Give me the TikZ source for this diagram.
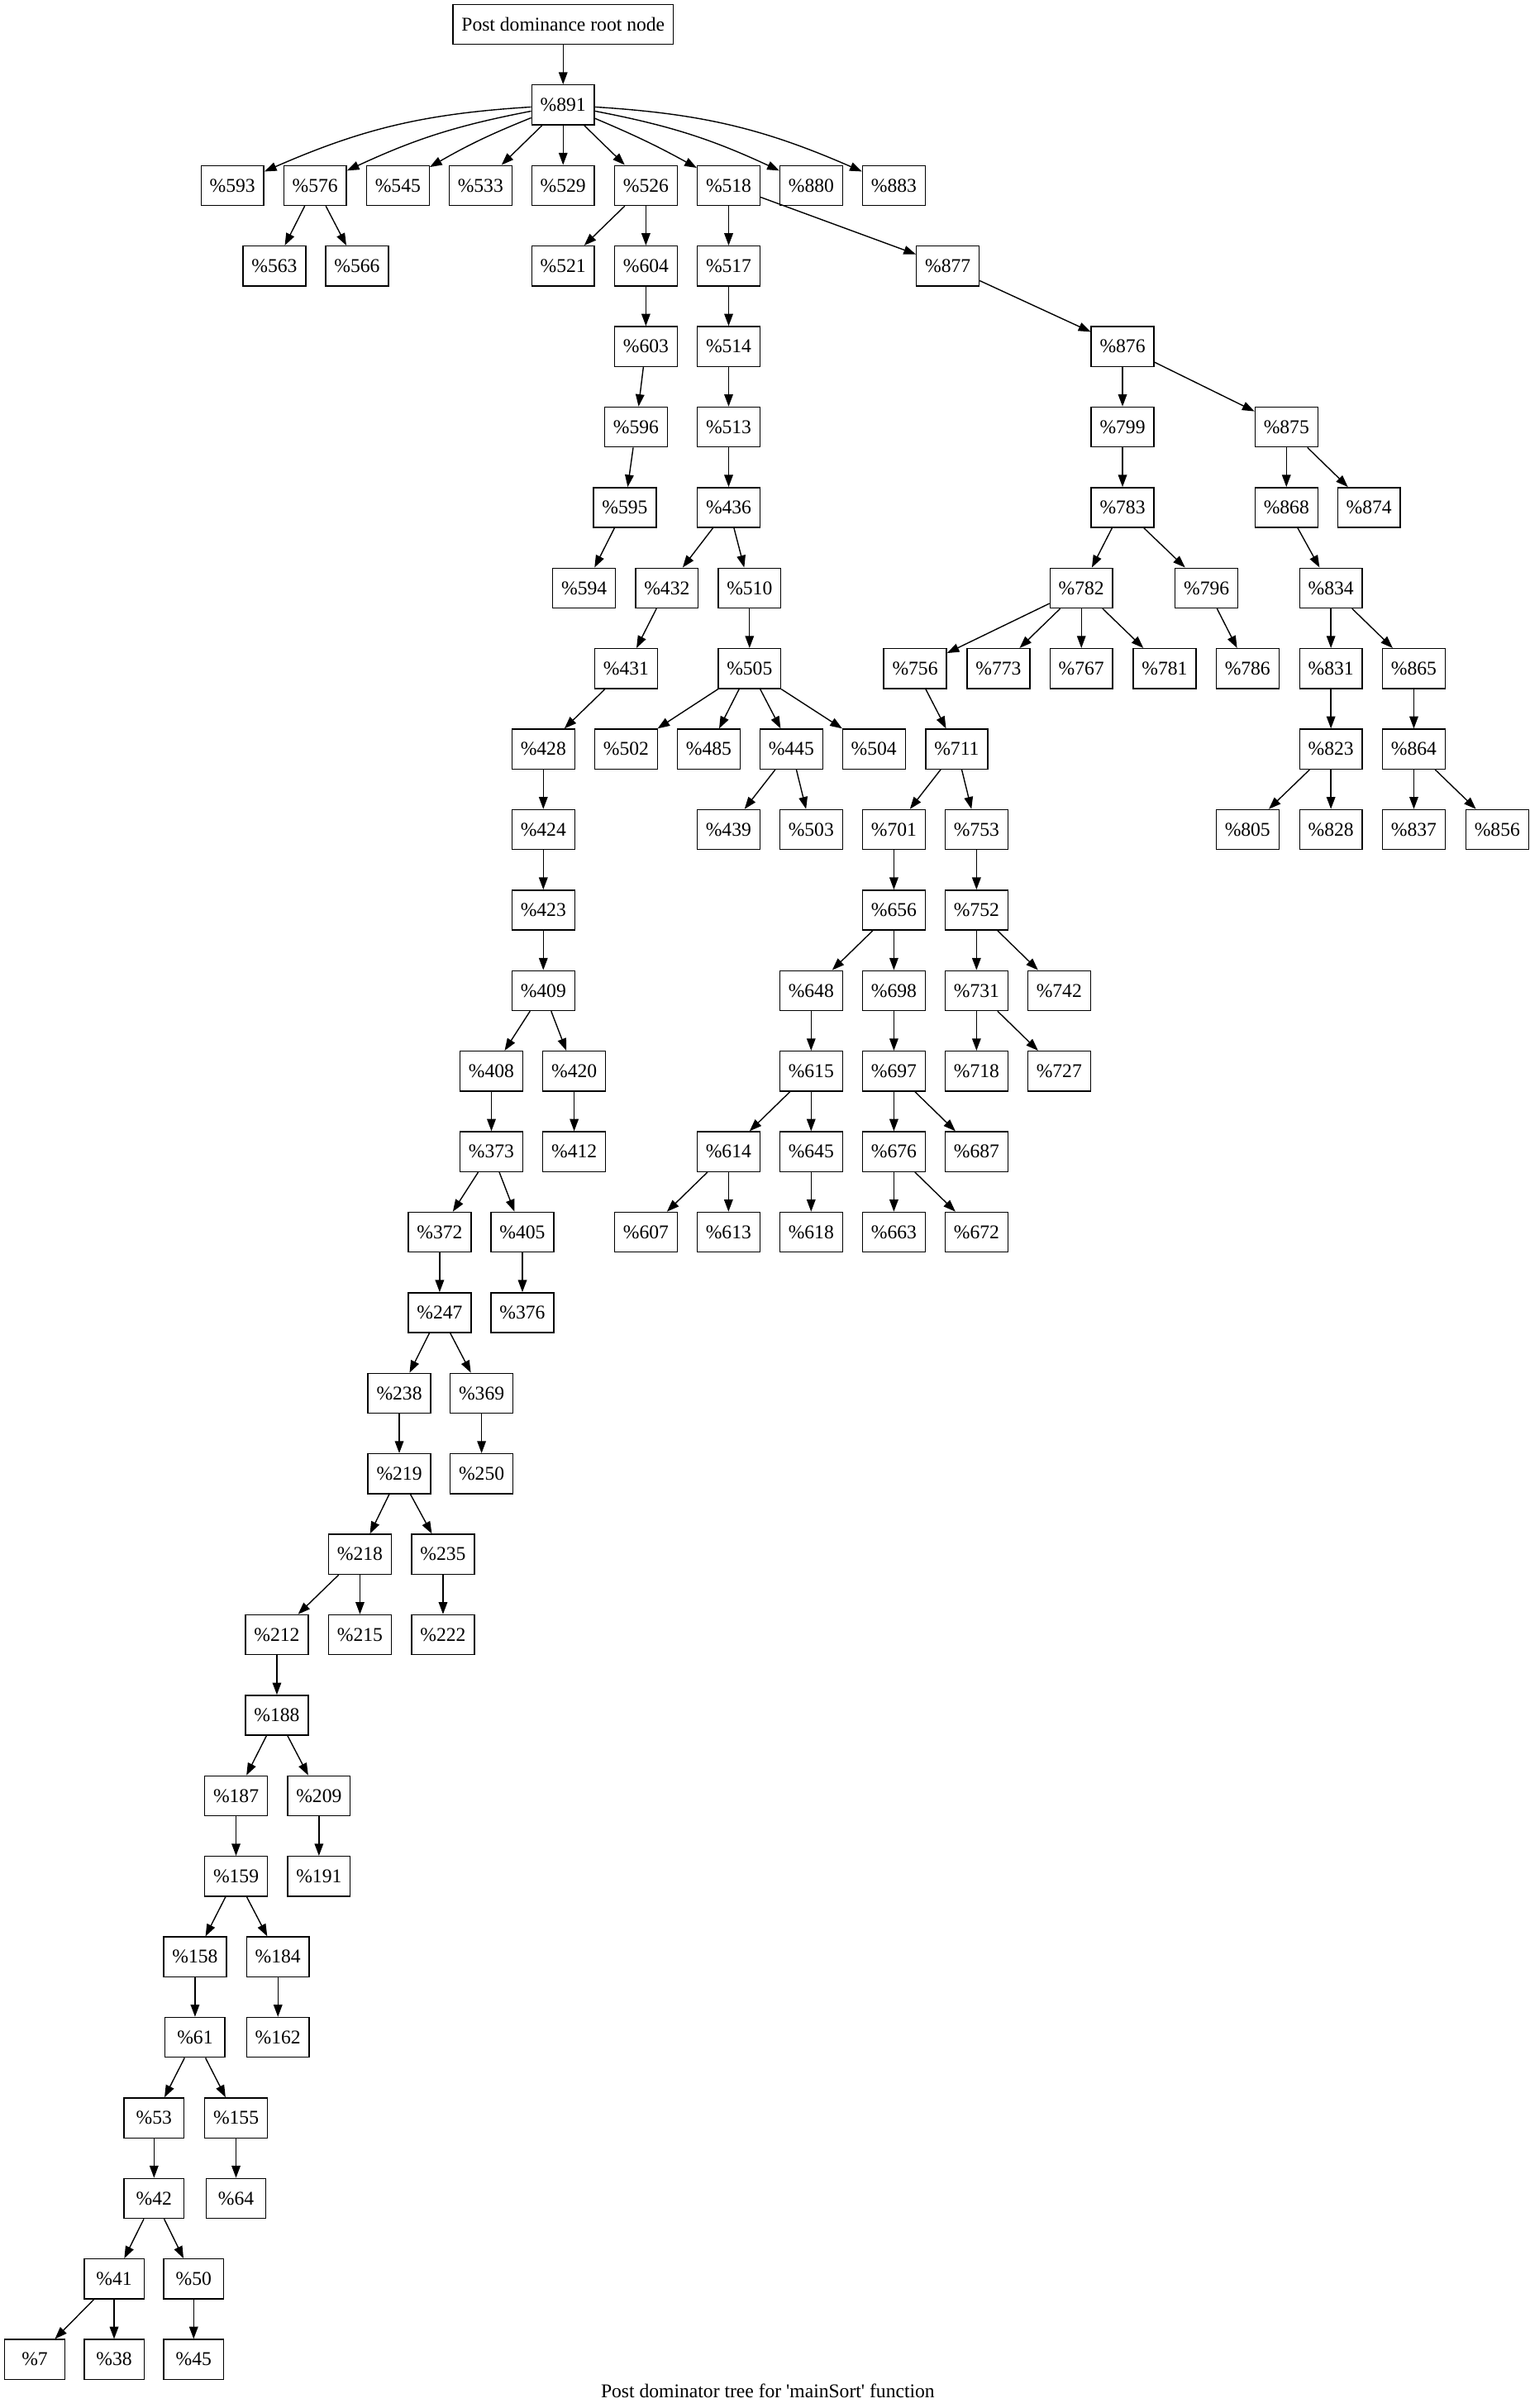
\documentclass[tikz,border=0pt]{standalone}
\usepackage{fontspec}
\setmainfont{Liberation Serif}
\usetikzlibrary{arrows.meta}

\tikzset{
  blk/.style={draw, line width=0.75pt, minimum width=39pt, minimum height=26pt,
    inner xsep=5.6pt, inner ysep=0pt, font=\fontsize{12.7}{15}\selectfont},
  edge/.style={->, line width=0.75pt},
}

\begin{document}
\begin{tikzpicture}[x=1pt, y=-52.43pt, >={Triangle[length=7.9pt,width=5.7pt]}]
    \useasboundingbox (0,-0.3033) rectangle (996,29.6034);
    % Root
    \node[blk] (root) at (366.7, 0) {Post dominance root node};
    \node[blk] (n891) at (366.7, 1) {\%891};
    % Level 2
    \node[blk] (n593) at (151.4, 2) {\%593};
    \node[blk] (n576) at (205.2, 2) {\%576};
    \node[blk] (n545) at (259.1, 2) {\%545};
    \node[blk] (n533) at (312.9, 2) {\%533};
    \node[blk] (n529) at (366.7, 2) {\%529};
    \node[blk] (n526) at (420.6, 2) {\%526};
    \node[blk] (n518) at (474.5, 2) {\%518};
    \node[blk] (n880) at (528.3, 2) {\%880};
    \node[blk] (n883) at (582.1, 2) {\%883};
    % Level 3
    \node[blk] (n563) at (178.7, 3) {\%563};
    \node[blk] (n566) at (232.5, 3) {\%566};
    \node[blk] (n521) at (366.7, 3) {\%521};
    \node[blk] (n604) at (420.6, 3) {\%604};
    \node[blk] (n517) at (474.5, 3) {\%517};
    \node[blk] (n877) at (617.2, 3) {\%877};
    % Level 4
    \node[blk] (n603) at (420.6, 4) {\%603};
    \node[blk] (n514) at (474.5, 4) {\%514};
    \node[blk] (n876) at (731.0, 4) {\%876};
    % Level 5
    \node[blk] (n596) at (414.2, 5) {\%596};
    \node[blk] (n513) at (474.5, 5) {\%513};
    \node[blk] (n799) at (731.0, 5) {\%799};
    \node[blk] (n875) at (837.7, 5) {\%875};
    % Level 6
    \node[blk] (n595) at (406.9, 6) {\%595};
    \node[blk] (n436) at (474.5, 6) {\%436};
    \node[blk] (n783) at (731.0, 6) {\%783};
    \node[blk] (n868) at (837.7, 6) {\%868};
    \node[blk] (n874) at (891.5, 6) {\%874};
    % Level 7
    \node[blk] (n594) at (380.4, 7) {\%594};
    \node[blk] (n432) at (434.3, 7) {\%432};
    \node[blk] (n510) at (488.1, 7) {\%510};
    \node[blk] (n782) at (704.2, 7) {\%782};
    \node[blk] (n796) at (785.7, 7) {\%796};
    \node[blk] (n834) at (866.7, 7) {\%834};
    % Level 8
    \node[blk] (n431) at (407.7, 8) {\%431};
    \node[blk] (n505) at (488.1, 8) {\%505};
    \node[blk] (n756) at (595.9, 8) {\%756};
    \node[blk] (n773) at (650.2, 8) {\%773};
    \node[blk] (n767) at (704.2, 8) {\%767};
    \node[blk] (n781) at (758.4, 8) {\%781};
    \node[blk] (n786) at (812.4, 8) {\%786};
    \node[blk] (n831) at (866.7, 8) {\%831};
    \node[blk] (n865) at (920.7, 8) {\%865};
    % Level 9
    \node[blk] (n428) at (353.8, 9) {\%428};
    \node[blk] (n502) at (407.7, 9) {\%502};
    \node[blk] (n485) at (461.5, 9) {\%485};
    \node[blk] (n445) at (515.3, 9) {\%445};
    \node[blk] (n504) at (569.1, 9) {\%504};
    \node[blk] (n711) at (623.0, 9) {\%711};
    \node[blk] (n823) at (866.7, 9) {\%823};
    \node[blk] (n864) at (920.7, 9) {\%864};
    % Level 10
    \node[blk] (n424) at (353.8, 10) {\%424};
    \node[blk] (n439) at (474.4, 10) {\%439};
    \node[blk] (n503) at (528.2, 10) {\%503};
    \node[blk] (n701) at (582.1, 10) {\%701};
    \node[blk] (n753) at (635.9, 10) {\%753};
    \node[blk] (n805) at (812.4, 10) {\%805};
    \node[blk] (n828) at (866.7, 10) {\%828};
    \node[blk] (n837) at (920.7, 10) {\%837};
    \node[blk] (n856) at (975.0, 10) {\%856};
    % Level 11
    \node[blk] (n423) at (353.8, 11) {\%423};
    \node[blk] (n656) at (582.1, 11) {\%656};
    \node[blk] (n752) at (635.9, 11) {\%752};
    % Level 12
    \node[blk] (n409) at (353.8, 12) {\%409};
    \node[blk] (n648) at (528.2, 12) {\%648};
    \node[blk] (n698) at (582.1, 12) {\%698};
    \node[blk] (n731) at (635.9, 12) {\%731};
    \node[blk] (n742) at (689.7, 12) {\%742};
    % Level 13
    \node[blk] (n408) at (320.0, 13) {\%408};
    \node[blk] (n420) at (373.9, 13) {\%420};
    \node[blk] (n615) at (528.2, 13) {\%615};
    \node[blk] (n697) at (582.1, 13) {\%697};
    \node[blk] (n718) at (635.9, 13) {\%718};
    \node[blk] (n727) at (689.7, 13) {\%727};
    % Level 14
    \node[blk] (n373) at (320.0, 14) {\%373};
    \node[blk] (n412) at (373.9, 14) {\%412};
    \node[blk] (n614) at (474.4, 14) {\%614};
    \node[blk] (n645) at (528.2, 14) {\%645};
    \node[blk] (n676) at (582.1, 14) {\%676};
    \node[blk] (n687) at (635.9, 14) {\%687};
    % Level 15
    \node[blk] (n372) at (286.3, 15) {\%372};
    \node[blk] (n405) at (340.2, 15) {\%405};
    \node[blk] (n607) at (420.6, 15) {\%607};
    \node[blk] (n613) at (474.4, 15) {\%613};
    \node[blk] (n618) at (528.2, 15) {\%618};
    \node[blk] (n663) at (582.1, 15) {\%663};
    \node[blk] (n672) at (635.9, 15) {\%672};
    % Level 16 to 29
    \node[blk] (n247) at (286.3, 16) {\%247};
    \node[blk] (n376) at (340.2, 16) {\%376};
    \node[blk] (n238) at (260.0, 17) {\%238};
    \node[blk] (n369) at (313.6, 17) {\%369};
    \node[blk] (n219) at (260.0, 18) {\%219};
    \node[blk] (n250) at (313.6, 18) {\%250};
    \node[blk] (n218) at (234.4, 19) {\%218};
    \node[blk] (n235) at (288.5, 19) {\%235};
    \node[blk] (n212) at (180.3, 20) {\%212};
    \node[blk] (n215) at (234.4, 20) {\%215};
    \node[blk] (n222) at (288.5, 20) {\%222};
    \node[blk] (n188) at (180.3, 21) {\%188};
    \node[blk] (n187) at (153.7, 22) {\%187};
    \node[blk] (n209) at (207.7, 22) {\%209};
    \node[blk] (n159) at (153.7, 23) {\%159};
    \node[blk] (n191) at (207.7, 23) {\%191};
    \node[blk] (n158) at (127.0, 24) {\%158};
    \node[blk] (n184) at (181.0, 24) {\%184};
    \node[blk] (n61) at (127.0, 25) {\%61};
    \node[blk] (n162) at (181.0, 25) {\%162};
    \node[blk] (n53) at (100.3, 26) {\%53};
    \node[blk] (n155) at (153.7, 26) {\%155};
    \node[blk] (n42) at (100.3, 27) {\%42};
    \node[blk] (n64) at (153.7, 27) {\%64};
    \node[blk] (n41) at (74.3, 28) {\%41};
    \node[blk] (n50) at (126.1, 28) {\%50};
    \node[blk] (n7) at (22.6, 29) {\%7};
    \node[blk] (n38) at (74.3, 29) {\%38};
    \node[blk] (n45) at (126.1, 29) {\%45};
    % Caption
    \node[font=\fontsize{12.7}{15}\selectfont, inner sep=0pt] (cap) at (500, 29.39) {Post dominator tree for \textquotesingle mainSort\textquotesingle{} function};

    % Edges from the top
    \draw[edge] (root) -- (n891);
    \draw[edge] (n891) to[bend right=10] (n593);
    \draw[edge] (n891) to[bend right=7] (n576);
    \draw[edge] (n891) to[bend right=4] (n545);
    \draw[edge] (n891) -- (n533);
    \draw[edge] (n891) -- (n529);
    \draw[edge] (n891) -- (n526);
    \draw[edge] (n891) to[bend left=3] (n518);
    \draw[edge] (n891) to[bend left=7] (n880);
    \draw[edge] (n891) to[bend left=10] (n883);
    \draw[edge] (n576) -- (n563);
    \draw[edge] (n576) -- (n566);
    \draw[edge] (n526) -- (n521);
    \draw[edge] (n526) -- (n604);
    \draw[edge] (n604) -- (n603);
    \draw[edge] (n603) -- (n596);
    \draw[edge] (n596) -- (n595);
    \draw[edge] (n595) -- (n594);
    \draw[edge] (n518) -- (n517);
    \draw[edge] (n518) -- (n877);
    % Middle branch
    \draw[edge] (n517) -- (n514);
    \draw[edge] (n514) -- (n513);
    \draw[edge] (n513) -- (n436);
    \draw[edge] (n436) -- (n432);
    \draw[edge] (n436) -- (n510);
    \draw[edge] (n510) -- (n505);
    \draw[edge] (n505) -- (n502);
    \draw[edge] (n505) -- (n485);
    \draw[edge] (n505) -- (n445);
    \draw[edge] (n505) -- (n504);
    \draw[edge] (n445) -- (n439);
    \draw[edge] (n445) -- (n503);
    % Long left chain
    \draw[edge] (n432) -- (n431);
    \draw[edge] (n431) -- (n428);
    \draw[edge] (n428) -- (n424);
    \draw[edge] (n424) -- (n423);
    \draw[edge] (n423) -- (n409);
    \draw[edge] (n409) -- (n408);
    \draw[edge] (n409) -- (n420);
    \draw[edge] (n420) -- (n412);
    \draw[edge] (n408) -- (n373);
    \draw[edge] (n373) -- (n372);
    \draw[edge] (n373) -- (n405);
    \draw[edge] (n405) -- (n376);
    \draw[edge] (n372) -- (n247);
    \draw[edge] (n247) -- (n238);
    \draw[edge] (n247) -- (n369);
    \draw[edge] (n369) -- (n250);
    \draw[edge] (n238) -- (n219);
    \draw[edge] (n219) -- (n218);
    \draw[edge] (n219) -- (n235);
    \draw[edge] (n235) -- (n222);
    \draw[edge] (n218) -- (n212);
    \draw[edge] (n218) -- (n215);
    \draw[edge] (n212) -- (n188);
    \draw[edge] (n188) -- (n187);
    \draw[edge] (n188) -- (n209);
    \draw[edge] (n209) -- (n191);
    \draw[edge] (n187) -- (n159);
    \draw[edge] (n159) -- (n158);
    \draw[edge] (n159) -- (n184);
    \draw[edge] (n184) -- (n162);
    \draw[edge] (n158) -- (n61);
    \draw[edge] (n61) -- (n53);
    \draw[edge] (n61) -- (n155);
    \draw[edge] (n155) -- (n64);
    \draw[edge] (n53) -- (n42);
    \draw[edge] (n42) -- (n41);
    \draw[edge] (n42) -- (n50);
    \draw[edge] (n50) -- (n45);
    \draw[edge] (n41) -- (n7);
    \draw[edge] (n41) -- (n38);
    % Right branch
    \draw[edge] (n877) -- (n876);
    \draw[edge] (n876) -- (n799);
    \draw[edge] (n876) -- (n875);
    \draw[edge] (n799) -- (n783);
    \draw[edge] (n783) -- (n782);
    \draw[edge] (n783) -- (n796);
    \draw[edge] (n796) -- (n786);
    \draw[edge] (n782) -- (n756);
    \draw[edge] (n782) -- (n773);
    \draw[edge] (n782) -- (n767);
    \draw[edge] (n782) -- (n781);
    \draw[edge] (n756) -- (n711);
    \draw[edge] (n711) -- (n701);
    \draw[edge] (n711) -- (n753);
    \draw[edge] (n701) -- (n656);
    \draw[edge] (n656) -- (n648);
    \draw[edge] (n656) -- (n698);
    \draw[edge] (n648) -- (n615);
    \draw[edge] (n615) -- (n614);
    \draw[edge] (n615) -- (n645);
    \draw[edge] (n614) -- (n607);
    \draw[edge] (n614) -- (n613);
    \draw[edge] (n645) -- (n618);
    \draw[edge] (n698) -- (n697);
    \draw[edge] (n697) -- (n676);
    \draw[edge] (n697) -- (n687);
    \draw[edge] (n676) -- (n663);
    \draw[edge] (n676) -- (n672);
    \draw[edge] (n753) -- (n752);
    \draw[edge] (n752) -- (n731);
    \draw[edge] (n752) -- (n742);
    \draw[edge] (n731) -- (n718);
    \draw[edge] (n731) -- (n727);
    \draw[edge] (n875) -- (n868);
    \draw[edge] (n875) -- (n874);
    \draw[edge] (n868) -- (n834);
    \draw[edge] (n834) -- (n831);
    \draw[edge] (n834) -- (n865);
    \draw[edge] (n831) -- (n823);
    \draw[edge] (n823) -- (n805);
    \draw[edge] (n823) -- (n828);
    \draw[edge] (n865) -- (n864);
    \draw[edge] (n864) -- (n837);
    \draw[edge] (n864) -- (n856);
\end{tikzpicture}
\end{document}
